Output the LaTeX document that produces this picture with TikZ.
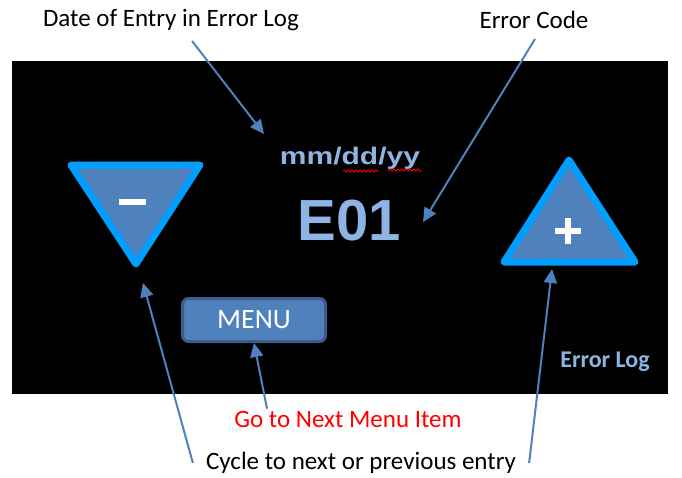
\documentclass[tikz,border=0pt]{standalone}
\usepackage{fontspec}
\setmainfont{Carlito}
\newfontfamily\arialfont{Liberation Sans}
\usetikzlibrary{arrows.meta,positioning,decorations.pathmorphing}

\definecolor{btnblue}{RGB}{79,129,189}
\definecolor{edgeblue}{RGB}{0,158,255}
\definecolor{lightblue}{RGB}{141,180,226}
\definecolor{btnedge}{RGB}{56,93,138}

\begin{document}
\begin{tikzpicture}[x=1pt, y=-1pt]
\tikzset{
    mylabel/.style={inner sep=0pt, font=\fontsize{25}{30}\selectfont},
    myarrow/.style={-{Triangle[length=14pt,width=13pt]}, draw=btnblue, line width=2pt},
    mytri/.style={fill=btnblue, draw=edgeblue, line width=7pt, line join=round},
    mysign/.style={draw=white, line width=6pt},
    mybutton/.style={rectangle, rounded corners=6pt, fill=btnblue, draw=btnedge, line width=3pt, minimum width=143pt, minimum height=43pt, text=white, font=\fontsize{28}{32}\selectfont},
    mydisplay/.style={inner sep=0pt, text=lightblue}
}
\useasboundingbox[fill=white] (0,0) rectangle (682,477);
\fill[black] (12,61) rectangle (668,394);

% the two buttons
\draw[mytri] (71,165) -- (200,165) -- (136,264) -- cycle;
\draw[mysign] (119,202) -- (146,202);
\draw[mytri] (569,160) -- (635,262) -- (504,262) -- cycle;
\draw[mysign] (555,231) -- (581,231) (568,218) -- (568,244);
\coordinate (minusend) at (143,283);
\coordinate (plusend) at (552,269);

% display
\node[mydisplay, font=\arialfont\bfseries\fontsize{24}{28}\selectfont] (date) at (350,158) {\scalebox{1.25}[1]{mm/dd/yy}};
\draw[red, line width=0.8pt, decorate, decoration={snake, amplitude=1pt, segment length=4pt}]
    (343,171) -- (378,171) (388,171) -- (422,171);
\node[mydisplay, font=\arialfont\bfseries\fontsize{58}{64}\selectfont] (code) at (349,221) {E01};
\node[mybutton] (menu) at (254,320) {MENU};
\node[mydisplay, font=\bfseries\fontsize{24}{28}\selectfont] (errlog) at (605,362) {Error Log};

% labels
\node[mylabel] (datelbl) at (171,20) {Date of Entry in Error Log};
\node[mylabel] (codelbl) at (534,20) {Error Code};
\node[mylabel, text=red] (golbl) at (348,419) {Go to Next Menu Item};
\node[mylabel] (cyclelbl) at (361,463) {Cycle to next or previous entry};

\draw[myarrow] ([xshift=21pt,yshift=-10pt]datelbl.south) -- (264,134);
\draw[myarrow] ([xshift=1pt,yshift=-10pt]codelbl.south) -- (423,222);
\draw[myarrow] ([xshift=-81pt,yshift=2pt]golbl.north) -- (menu.south);
\draw[myarrow] ([xshift=-13pt]cyclelbl.west) -- (minusend);
\draw[myarrow] ([xshift=13pt]cyclelbl.east) -- (plusend);
\end{tikzpicture}
\end{document}
